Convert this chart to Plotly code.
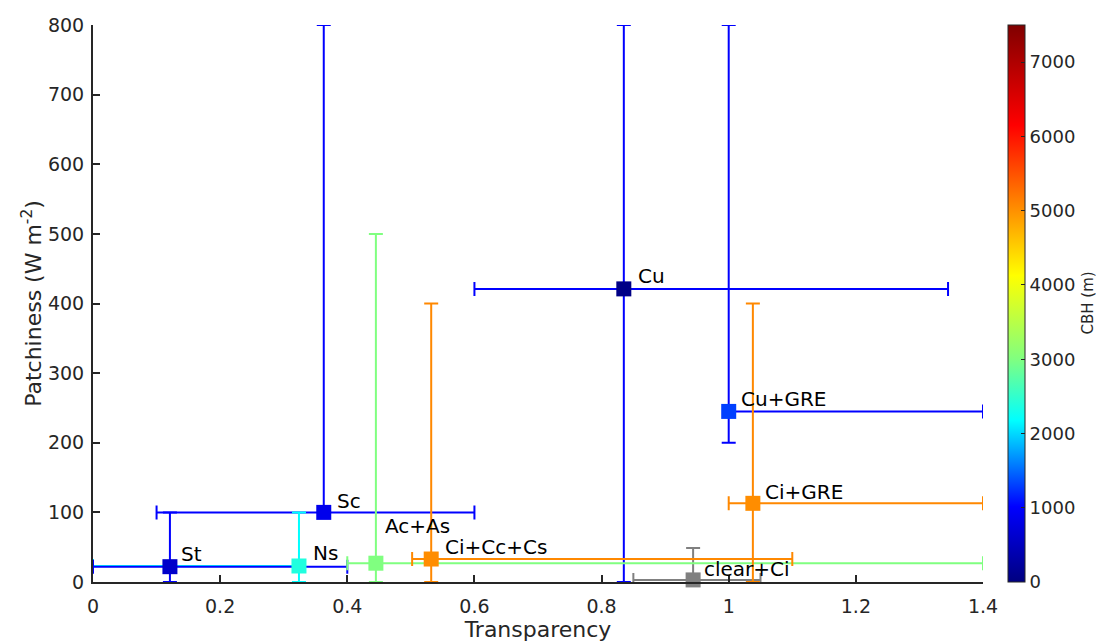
import plotly.graph_objects as go

# ---- data ----
names        = ["St", "Sc", "Ns", "Ac+As", "Ci+Cc+Cs", "Cu", "Cu+GRE", "Ci+GRE", "clear+Ci"]
transparency = [0.121, 0.363, 0.324, 0.445, 0.532, 0.835, 1.000, 1.038, 0.944]
patchiness   = [22, 100, 23, 27, 33, 421, 245, 113, 3]
x_low        = [0.0, 0.10, 0.0, 0.40, 0.502, 0.60, 1.00, 1.00, 0.85]
x_high       = [0.4, 0.60, 0.324, 1.40, 1.10, 1.345, 1.40, 1.40, 1.05]
y_low        = [0, 100, 0, 0, 0, 0, 200, 0, 0]
y_high       = [100, 800, 100, 500, 400, 800, 800, 400, 49]
cbh          = [590, 860, 2380, 3000, 5030, 50, 1300, 5030, None]   # None -> clear sky (grey)
x_ticks      = [0, 0.2, 0.4, 0.6, 0.8, 1.0, 1.2, 1.4]
x_ticktext   = ["0", "0.2", "0.4", "0.6", "0.8", "1", "1.2", "1.4"]
y_ticks      = [0, 100, 200, 300, 400, 500, 600, 700, 800]
cbar_ticks   = [0, 1000, 2000, 3000, 4000, 5000, 6000, 7000]

# ---- styles ----
err_colors = {"St": "#0000ff", "Sc": "#0000ff", "Cu": "#0000ff", "Cu+GRE": "#0000ff",
              "Ns": "#00ffff", "Ac+As": "#80ff80", "Ci+Cc+Cs": "#ff8800",
              "Ci+GRE": "#ff8800", "clear+Ci": "#808080"}
label_shift = {"St": (9, 13), "Sc": (11, 11), "Ns": (12, 13), "Ac+As": (7, 37),
               "Ci+Cc+Cs": (12, 12), "Cu": (12, 13), "Cu+GRE": (10, 12),
               "Ci+GRE": (10, 11), "clear+Ci": (9, 11)}
draw_order = ["Cu", "Sc", "Cu+GRE", "Ns", "St", "clear+Ci", "Ac+As", "Ci+Cc+Cs", "Ci+GRE"]

colorscale = [
    [0.0, "#000080"], [0.135, "#0000ff"], [0.29, "#00ffff"], [0.40, "#80ff80"],
    [0.55, "#ffff00"], [0.82, "#ff0000"], [1.0, "#800000"],
]
FONT = "DejaVu Sans"
TXT = "#262626"

fig = go.Figure()

# error bars (drawn first, markers on top)
for nm in draw_order:
    i = names.index(nm)
    tx, py = transparency[i], patchiness[i]
    fig.add_trace(go.Scatter(
        x=[tx], y=[py], mode="markers",
        marker=dict(size=1, opacity=0),
        error_x=dict(type="data", symmetric=False,
                     array=[x_high[i] - tx], arrayminus=[tx - x_low[i]],
                     color=err_colors[nm], thickness=2, width=7),
        error_y=dict(type="data", symmetric=False,
                     array=[y_high[i] - py], arrayminus=[py - y_low[i]],
                     color=err_colors[nm], thickness=2, width=7),
        cliponaxis=False, showlegend=False, hoverinfo="skip",
    ))

# coloured markers (CBH colour scale)
idx_c = [i for i in range(len(names)) if cbh[i] is not None]
fig.add_trace(go.Scatter(
    x=[transparency[i] for i in idx_c], y=[patchiness[i] for i in idx_c],
    mode="markers", cliponaxis=False, showlegend=False,
    marker=dict(symbol="square", size=15, color=[cbh[i] for i in idx_c],
                colorscale=colorscale, cmin=0, cmax=7500, line=dict(width=0),
                showscale=True,
                colorbar=dict(x=1.028, xanchor="left", xpad=0, ypad=0,
                              y=0.5, yanchor="middle",
                              len=1, lenmode="fraction", thickness=17,
                              outlinecolor=TXT, outlinewidth=1,
                              ticks="inside", ticklen=4, tickcolor=TXT,
                              tickvals=cbar_ticks,
                              tickfont=dict(family=FONT, size=18, color=TXT))),
))
# grey clear-sky marker
idx_g = [i for i in range(len(names)) if cbh[i] is None]
fig.add_trace(go.Scatter(
    x=[transparency[i] for i in idx_g], y=[patchiness[i] for i in idx_g],
    mode="markers", cliponaxis=False, showlegend=False,
    marker=dict(symbol="square", size=15, color="#808080", line=dict(width=0)),
))

for i, nm in enumerate(names):
    dx, dy = label_shift[nm]
    fig.add_annotation(x=transparency[i], y=patchiness[i], text=nm, showarrow=False,
                       xanchor="left", yanchor="middle", xshift=dx, yshift=dy,
                       font=dict(family=FONT, size=20, color="#000000"))

# colour-bar title as rotated text at the right edge
fig.add_annotation(x=1.0, xref="paper", xanchor="center", xshift=104,
                   y=0.5, yref="paper", yanchor="middle",
                   text="CBH (m)", textangle=-90, showarrow=False,
                   font=dict(family=FONT, size=15, color=TXT))

axis_common = dict(showline=True, linecolor=TXT, linewidth=2, ticks="inside",
                   ticklen=7, tickwidth=2, tickcolor=TXT, showgrid=False,
                   zeroline=False, mirror=False,
                   tickfont=dict(family=FONT, size=19, color=TXT))
fig.update_xaxes(range=[0, 1.4], tickvals=x_ticks, ticktext=x_ticktext,
                 ticklabelstandoff=6,
                 title=dict(text="Transparency", standoff=4,
                            font=dict(family=FONT, size=22, color=TXT)),
                 **axis_common)
fig.update_yaxes(range=[0, 800], tickvals=y_ticks, ticklabelstandoff=3,
                 title=dict(text="Patchiness (W m<sup>-2</sup>)", standoff=0,
                            font=dict(family=FONT, size=22, color=TXT)),
                 **axis_common)

# the page adds an 8 px body margin, so the figure is smaller and margins shifted
fig.update_layout(width=1096, height=634, autosize=False,
                  margin=dict(l=85, r=121, t=17, b=60, autoexpand=False),
                  plot_bgcolor="white", paper_bgcolor="white",
                  font=dict(family=FONT, color=TXT))

fig.write_html("out.html")
